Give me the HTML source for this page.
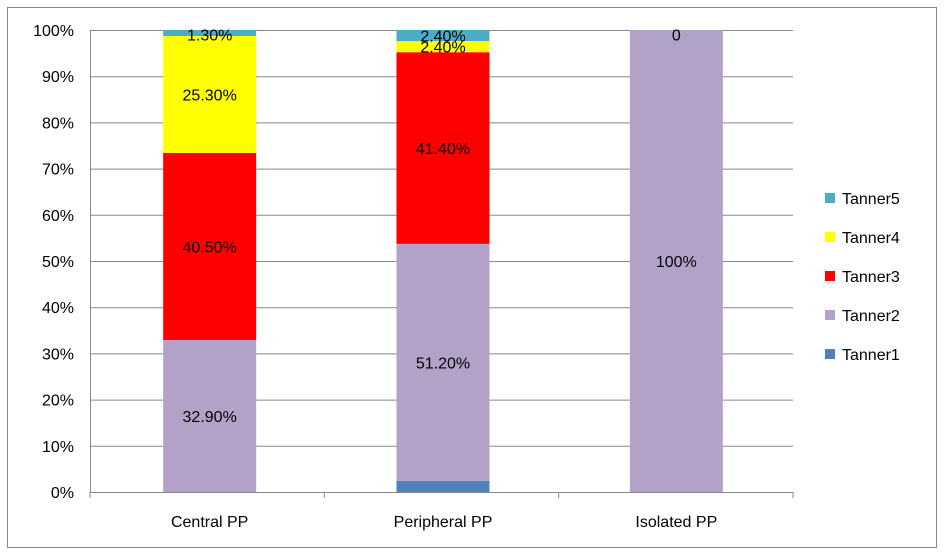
<!DOCTYPE html>
<html><head><meta charset="utf-8"><style>
body{margin:0;background:#fff;}
svg text{font-family:"Liberation Sans",sans-serif;font-size:16px;fill:#000;}
</style></head><body>
<svg width="945" height="555">
<rect x="7.5" y="7.5" width="929" height="540" fill="#fff" stroke="#888"/>
<g id="plot"></g>
</svg>
<script>
const categories=["Central PP","Peripheral PP","Isolated PP"];
const seriesNames=["Tanner1","Tanner2","Tanner3","Tanner4","Tanner5"];
const tanner1=[0,2.4,0];
const tanner2=[32.9,51.2,100];
const tanner3=[40.5,41.4,0];
const tanner4=[25.3,2.4,0];
const tanner5=[1.3,2.4,0];
const labelText=[
 [null,null,null],
 ["32.90%","51.20%","100%"],
 ["40.50%","41.40%",null],
 ["25.30%","2.40%",null],
 ["1.30%","2.40%","0"]];
const ticks=["0%","10%","20%","30%","40%","50%","60%","70%","80%","90%","100%"];
const colors=["#4f81bd","#b2a2c7","#ff0000","#ffff00","#4bacc6"];
const series=[tanner1,tanner2,tanner3,tanner4,tanner5];
const NS="http://www.w3.org/2000/svg";
const g=document.getElementById("plot");
const X0=90,X1=793,Y0=492,Y1=30;
const y=v=>Y0-(Y0-Y1)*v/100;
const band=(X1-X0)/categories.length;
const xc=i=>X0+band*(i+0.5)+2.5-i;
const bw=93;
function el(t,a){const e=document.createElementNS(NS,t);for(const k in a)e.setAttribute(k,a[k]);g.appendChild(e);return e;}
ticks.forEach((t,i)=>{
 const v=i*10;
 const l=el("line",{x1:X0,x2:X1,y1:y(v)+.5,y2:y(v)+.5,stroke:"#888"});
 
 
 const tx=el("text",{x:X0-16,y:y(v)+6,"text-anchor":"end"});tx.textContent=t;
 
 
});
const ax=el("line",{x1:X0+.5,x2:X0+.5,y1:Y1,y2:Y0,stroke:"#888"});


for(let i=0;i<=categories.length;i++){
 const t=el("line",{x1:X0+band*i,x2:X0+band*i,y1:Y0,y2:Y0+6,stroke:"#888"});
 
 
}
categories.forEach((c,i)=>{
 const total=series.reduce((s,a)=>s+a[i],0);
 let cum=0;
 const labs=[];
 series.forEach((s,k)=>{
  const v=s[i]/total*100;
  if(v>0){
   const r=el("rect",{x:xc(i)-bw/2,y:y(cum+v),width:bw,height:y(cum)-y(cum+v),fill:colors[k]});
   
   
  }
  if(labelText[k][i]!==null) labs.push([labelText[k][i],cum+v/2]);
  cum+=v;
 });
 labs.forEach(([t,v])=>{
  const tx=el("text",{x:xc(i),y:y(Math.min(v,99))+6,"text-anchor":"middle"});tx.textContent=t;
  
  
 });
 const cl=el("text",{x:xc(i),y:527,"text-anchor":"middle"});cl.textContent=c;
 
 
});
for(let k=seriesNames.length-1;k>=0;k--){
 const yy=198+(4-k)*39;
 const sw=el("rect",{x:825,y:yy-5,width:10,height:10,fill:colors[k]});
 
 
 const tx=el("text",{x:842,y:yy+6});tx.textContent=seriesNames[k];
 
 
}
</script>
</body></html>
